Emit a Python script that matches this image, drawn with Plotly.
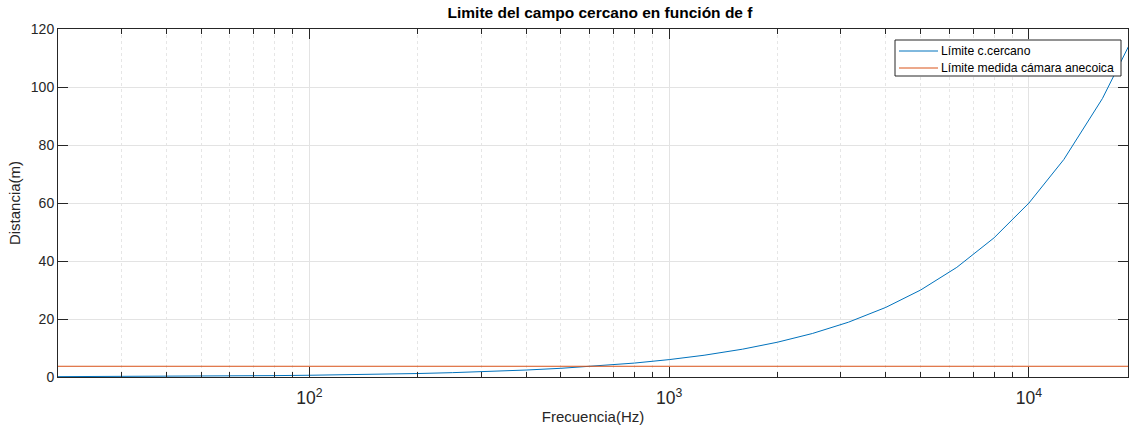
import plotly.graph_objects as go
import math

# One-third octave band centre frequencies (Hz)
frecuencia = [20, 25, 31.5, 40, 50, 63, 80, 100, 125, 160, 200, 250, 315, 400, 500,
              630, 800, 1000, 1250, 1600, 2000, 2500, 3150, 4000, 5000, 6300, 8000,
              10000, 12500, 16000, 20000]

# Near-field limit distance (m) for each band
limite_cercano = [0.12, 0.15, 0.19, 0.24, 0.30, 0.38, 0.48, 0.60, 0.75, 0.96, 1.2, 1.5,
                  1.89, 2.4, 3.0, 3.78, 4.8, 6.0, 7.5, 9.6, 12.0, 15.0, 18.9, 24.0, 30.0,
                  37.8, 48.0, 60.0, 75.0, 96.0, 120.0]

# Maximum measurement distance available in the anechoic chamber (m)
limite_camara = [3.7] * len(frecuencia)

nombres = ["Límite c.cercano", "Límite medida cámara anecoica"]

AZUL = "#0072BD"
NARANJA = "#D95319"
colores = [AZUL, NARANJA]
EJE = "#262626"
FUENTE = "Liberation Sans, Arial, sans-serif"

# plot area in pixels
L, R, T, B = 58, 1128, 29, 377
W, H = R - L, B - T


def px_x(p):
    return (p - L) / W


def px_y(p):
    return (B - p) / H


fig = go.Figure()
for serie, nombre, color in zip([limite_cercano, limite_camara], nombres, colores):
    fig.add_trace(go.Scatter(x=frecuencia, y=serie, mode="lines", name=nombre,
                             line=dict(color=color, width=1), showlegend=False))

# compact boxed legend, top right inside the axes
shapes = [dict(type="rect", xref="x domain", yref="y domain",
               x0=px_x(895), x1=px_x(1121), y0=px_y(76), y1=px_y(40),
               line=dict(color=EJE, width=1), fillcolor="white", layer="above")]
annotations = []
for i, (nombre, color) in enumerate(zip(nombres, colores)):
    yy = px_y(51 + 17 * i)
    shapes.append(dict(type="line", xref="x domain", yref="y domain",
                       x0=px_x(899), x1=px_x(938), y0=yy, y1=yy,
                       line=dict(color=color, width=1), layer="above"))
    annotations.append(dict(xref="x domain", yref="y domain", x=px_x(939), y=yy,
                            text=nombre, showarrow=False, xanchor="left",
                            yanchor="middle",
                            font=dict(size=12.2, color="black", family=FUENTE)))

fig.update_layout(
    width=1129, height=430,
    margin=dict(l=L, r=1129 - R, t=T, b=430 - B),
    paper_bgcolor="white", plot_bgcolor="white",
    font=dict(family=FUENTE, color=EJE, size=14),
    title=dict(text="<b>Limite del campo cercano en función de f</b>",
               x=600 / 1129, xanchor="center",
               y=1 - 13 / 430, yanchor="middle",
               font=dict(size=15.5, color="black")),
    showlegend=False,
    shapes=shapes,
    annotations=annotations,
)

fig.update_xaxes(
    type="log",
    range=[math.log10(20), math.log10(18850)],
    dtick=1, exponentformat="power", showexponent="all",
    ticks="inside", ticklen=10, tickcolor=EJE, tickwidth=1,
    ticklabelstandoff=6,
    showline=True, linecolor=EJE, linewidth=1, mirror="allticks",
    showgrid=True, gridcolor="#E3E3E3", gridwidth=1,
    minor=dict(ticks="inside", ticklen=5, tickcolor=EJE,
               showgrid=True, gridcolor="#E6E6E6", griddash="dot"),
    title=dict(text="Frecuencia(Hz)", font=dict(size=15, color=EJE), standoff=4),
    tickfont=dict(size=14, color=EJE),
    zeroline=False,
)

fig.update_yaxes(
    range=[0, 120], dtick=20,
    ticks="inside", ticklen=10, tickcolor=EJE, tickwidth=1,
    showline=True, linecolor=EJE, linewidth=1, mirror="allticks",
    showgrid=True, gridcolor="#E3E3E3", gridwidth=1,
    title=dict(text="Distancia(m)", font=dict(size=15, color=EJE), standoff=6),
    tickfont=dict(size=14, color=EJE),
    zeroline=False,
)

fig.write_html("out.html")
